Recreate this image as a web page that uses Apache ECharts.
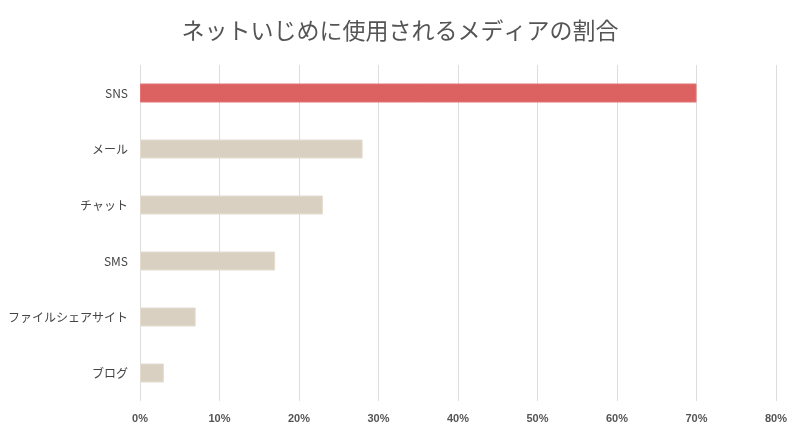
<!DOCTYPE html>
<html>
<head>
<meta charset="utf-8">
<script src="https://cdn.jsdelivr.net/npm/echarts@6/dist/echarts.min.js"></script>
<style>
  html, body { margin: 0; padding: 0; background: #fff; }
  #chart { width: 800px; height: 432px; }
</style>
</head>
<body>
<div id="chart"></div>
<script>
const categories = ['SNS', 'メール', 'チャット', 'SMS', 'ファイルシェアサイト', 'ブログ']
const values = [70, 28, 23, 17, 7, 3]
const highlight = 'SNS'

const chart = echarts.init(document.getElementById('chart'))

chart.setOption({
  animation: false,
  title: {
    text: 'ネットいじめに使用されるメディアの割合',
    left: 'center',
    top: 14,
    textStyle: {
      fontFamily: 'Noto Sans CJK JP',
      fontSize: 23,
      fontWeight: 'normal',
      color: '#555'
    }
  },
  grid: { left: 140, right: 24, top: 65, bottom: 31 },
  xAxis: {
    type: 'value',
    min: 0,
    max: 80,
    interval: 10,
    axisLine: { show: false },
    axisTick: { show: false },
    axisLabel: {
      color: '#555',
      fontFamily: 'Liberation Sans',
      fontWeight: 'bold',
      fontSize: 11,
      margin: 12,
      formatter: '{value}%'
    },
    splitLine: { lineStyle: { color: '#dddddd' } }
  },
  yAxis: {
    type: 'category',
    data: categories,
    inverse: true,
    axisLine: { show: false },
    axisTick: { show: false },
    axisLabel: {
      color: '#444',
      fontFamily: 'Noto Sans CJK JP',
      fontSize: 12,
      margin: 12
    }
  },
  series: [{
    type: 'bar',
    barWidth: 19,
    data: values.map((v, i) => ({
      value: v,
      itemStyle: categories[i] === highlight
        ? { color: '#dc6262', borderColor: '#e57373', borderWidth: 1 }
        : { color: '#d9d0c1', borderColor: '#e3dccf', borderWidth: 1 }
    }))
  }]
})
</script>
</body>
</html>
